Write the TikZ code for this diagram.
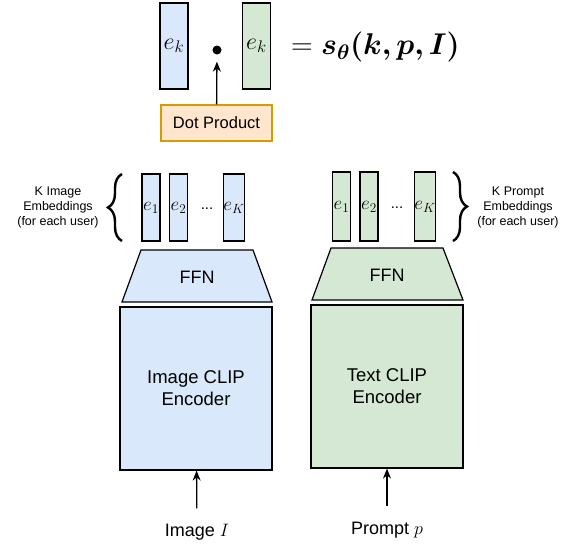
\RequirePackage{fix-cm}
\documentclass[tikz,border=0pt]{standalone}
\usepackage{fontspec}
\setmainfont{Liberation Sans}
\usepackage{amsmath}
\usepackage{bm}
\usetikzlibrary{decorations.pathreplacing,arrows.meta}
\definecolor{imgblue}{HTML}{DAE8FC}
\definecolor{txtgreen}{HTML}{D5E8D4}
\definecolor{dotfill}{HTML}{FFE6CC}
\definecolor{dotline}{HTML}{D79B00}
\tikzstyle{vecb}=[draw,line width=1.2pt,fill=imgblue,minimum width=18pt,minimum height=67pt,inner sep=0pt,font=\fontsize{19}{19}\selectfont]
\tikzstyle{vecg}=[vecb,fill=txtgreen,minimum height=69pt]
\tikzstyle{bigvecb}=[vecb,minimum width=28pt,minimum height=86pt,font=\fontsize{24}{24}\selectfont]
\tikzstyle{bigvecg}=[bigvecb,fill=txtgreen]
\tikzstyle{encb}=[draw,line width=1.2pt,fill=imgblue,minimum width=152pt,minimum height=163pt,align=center,font=\fontsize{18.5}{22}\selectfont]
\tikzstyle{encg}=[encb,fill=txtgreen]
\tikzstyle{sidelabel}=[align=center,font=\fontsize{12.5}{15}\selectfont]
\tikzstyle{brc}=[decorate,decoration={brace,amplitude=14pt},line width=2.4pt]
\tikzstyle{arr}=[-{Stealth[length=10pt,width=8pt]},line width=1.3pt]

\begin{document}
\begin{tikzpicture}[x=1pt,y=-1pt]
    \useasboundingbox (0,0) rectangle (561,546);
    % score on top
    \node[bigvecb] (topimg) at (174,46) {$e_k$};
    \node[bigvecg] (toptxt) at (256.5,46) {$e_k$};
    \node[circle,fill=black,minimum size=9pt,inner sep=0pt] (dot) at (217,50) {};
    \node[anchor=west,inner sep=0pt,font=\fontsize{30}{30}\selectfont] (score) at (291,47) {$=\boldsymbol{s_\theta(k,p,I)}$};
    \node[draw=dotline,line width=1.2pt,fill=dotfill,minimum width=111pt,minimum height=36pt,
          font=\fontsize{16.5}{18}\selectfont] (dotprod) at (216.5,123) {Dot Product};
    \draw[arr,shorten >=7pt] (dotprod) -- (dot);

    % image side
    \node[vecb] (ie1) at (151,207.5) {$e_1$};
    \node[vecb] (ie2) at (178.5,207.5) {$e_2$};
    \node[vecb] (ieK) at (234,207.5) {$e_K$};
    \node[font=\fontsize{15}{15}\selectfont] (idots) at (207,209) {...};
    \draw[brc] (122,241) -- (122,174);
    \node[sidelabel] (ilab) at (58,207) {K Image\\Embeddings\\(for each user)};
    \draw[line width=1.2pt,fill=imgblue] (122,302) -- (141,250) -- (253,250) -- (272,302) -- cycle;
    \node[font=\fontsize{18}{18}\selectfont] (iffn) at (197,277) {FFN};
    \node[encb] (ienc) at (196,388.5) {Image CLIP\\Encoder};
    \node[font=\fontsize{18}{18}\selectfont] (iin) at (197,532) {Image $I$};

    % text side
    \node[vecg] (te1) at (341.5,206.5) {$e_1$};
    \node[vecg] (te2) at (369,206.5) {$e_2$};
    \node[vecg] (teK) at (425,206.5) {$e_K$};
    \node[font=\fontsize{15}{15}\selectfont] (tdots) at (397,208) {...};
    \draw[brc] (453,172) -- (453,241);
    \node[sidelabel] (tlab) at (518,207) {K Prompt\\Embeddings\\(for each user)};
    \draw[line width=1.2pt,fill=txtgreen] (312,300) -- (331,248) -- (443,248) -- (463,300) -- cycle;
    \node[font=\fontsize{18}{18}\selectfont] (tffn) at (387,275) {FFN};
    \node[encg] (tenc) at (387,386.5) {Text CLIP\\Encoder};
    \node[font=\fontsize{18}{18}\selectfont] (tin) at (387,530) {Prompt $p$};

    \foreach \from/\to in {iin/ienc,tin/tenc}
    \draw[arr,shorten <=12pt] (\from) -- (\to);
\end{tikzpicture}
\end{document}
